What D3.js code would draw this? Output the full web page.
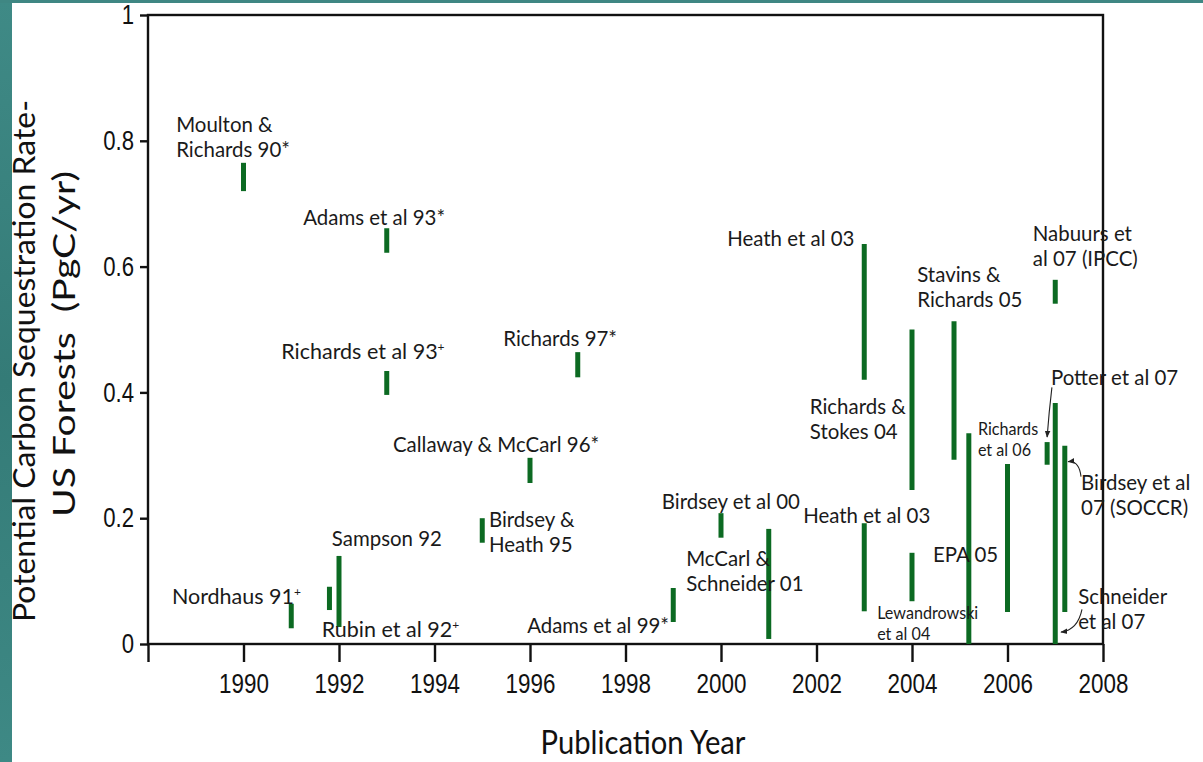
<!DOCTYPE html>
<html>
<head>
<meta charset="utf-8">
<script src="https://cdn.jsdelivr.net/npm/d3@7"></script>
<style>
  html, body { margin: 0; padding: 0; background: #ffffff; }
  svg { display: block; }
  text { white-space: pre; }
</style>
</head>
<body>
<svg id="chart" width="1203" height="762"></svg>
<script>
// ---------------- data ----------------
const studies = ["Moulton & Richards 90*", "Adams et al 93*", "Richards et al 93+", "Richards 97*",
  "Callaway & McCarl 96*", "Birdsey & Heath 95", "Birdsey et al 00", "McCarl & Schneider 01",
  "Adams et al 99*", "Nordhaus 91+", "Rubin et al 92+", "Sampson 92", "Heath et al 03 (high)",
  "Richards & Stokes 04", "Stavins & Richards 05", "EPA 05", "Richards et al 06", "Potter et al 07",
  "Schneider et al 07", "Nabuurs et al 07 (IPCC)", "Birdsey et al 07 (SOCCR)", "Lewandrowski et al 04",
  "Heath et al 03 (low)"];
const pubYear = [1990, 1993, 1993, 1997, 1996, 1995, 2000, 2001, 1999, 1991, 1991.8, 1992, 2003,
  2004, 2004.88, 2005.19, 2006, 2006.83, 2007, 2007, 2007.2, 2004, 2003];
const rateLow = [0.720, 0.622, 0.396, 0.424, 0.256, 0.161, 0.169, 0.008, 0.035, 0.025, 0.054, 0.027, 0.420,
  0.245, 0.293, 0.000, 0.051, 0.285, 0.000, 0.541, 0.051, 0.068, 0.052];
const rateHigh = [0.765, 0.661, 0.434, 0.464, 0.296, 0.200, 0.208, 0.183, 0.089, 0.064, 0.091, 0.140, 0.636,
  0.500, 0.513, 0.335, 0.286, 0.321, 0.383, 0.579, 0.315, 0.145, 0.192];

const xTickValues = [1988, 1990, 1992, 1994, 1996, 1998, 2000, 2002, 2004, 2006, 2008];
const xTickLabels = ["", "1990", "1992", "1994", "1996", "1998", "2000", "2002", "2004", "2006", "2008"];
const yTickValues = [0, 0.2, 0.4, 0.6, 0.8, 1];
const yTickLabels = ["0", "0.2", "0.4", "0.6", "0.8", "1"];

const yTitleLines = ["Potential Carbon Sequestration Rate-", "US Forests  (PgC/yr)"];
const xTitle = "Publication Year";

// annotation labels (text lines, anchor year, anchor value of first baseline)
const labelLines = [["Moulton &", "Richards 90*"], ["Adams et al 93*"], ["Richards et al 93+"], ["Richards 97*"],
  ["Callaway & McCarl 96*"], ["Birdsey &", "Heath 95"], ["Birdsey et al 00"], ["McCarl &", "Schneider 01"],
  ["Adams et al 99*"], ["Nordhaus 91+"], ["Rubin et al 92+"], ["Sampson 92"], ["Heath et al 03"],
  ["Richards &", "Stokes 04"], ["Stavins &", "Richards 05"], ["EPA 05"], ["Richards", "et al 06"],
  ["Potter et al 07"], ["Schneider", "et al 07"], ["Nabuurs et", "al 07 (IPCC)"], ["Birdsey et al", "07 (SOCCR)"],
  ["Lewandrowski", "et al 04"], ["Heath et al 03"]];
const labelYear = [1988.59, 1991.25, 1990.79, 1995.44, 1993.13, 1995.14, 1998.76, 1999.27, 1995.94, 1988.50,
  1991.64, 1991.85, 2000.13, 2001.86, 2004.11, 2004.44, 2005.38, 2006.91, 2007.48, 2006.53, 2007.54, 2003.27, 2001.72];
const labelValue = [0.814, 0.666, 0.453, 0.474, 0.305, 0.186, 0.215, 0.124, 0.017, 0.064, 0.011, 0.156, 0.633,
  0.366, 0.576, 0.130, 0.332, 0.412, 0.064, 0.641, 0.245, 0.040, 0.192];
const labelSmall = [16, 21];

// callout arrows: [year, value] of start, control and end points
const arrowFrom = [[2006.93, 0.408], [2007.54, 0.266], [2007.56, 0.055]];
const arrowCtrl = [[2006.87, 0.37], [2007.50, 0.292], [2007.47, 0.022]];
const arrowTo = [[2006.83, 0.329], [2007.27, 0.290], [2007.12, 0.019]];

// ---------------- layout ----------------
const svg = d3.select("#chart");
const W = 1203, H = 762;
const m = { left: 148, right: 100, top: 15, bottom: 118 };
const x = d3.scaleLinear().domain([1988, 2008]).range([m.left, W - m.right]);
const y = d3.scaleLinear().domain([0, 1]).range([H - m.bottom, m.top]);

// slide background strips
const defs = svg.append("defs");
const grad = defs.append("linearGradient").attr("id", "teal").attr("x1", 0).attr("x2", 0).attr("y1", 0).attr("y2", 1);
grad.append("stop").attr("offset", "0%").attr("stop-color", "#3f8a86");
grad.append("stop").attr("offset", "50%").attr("stop-color", "#347b77");
grad.append("stop").attr("offset", "100%").attr("stop-color", "#3e8985");
svg.append("rect").attr("x", 0).attr("y", 0).attr("width", 12).attr("height", H).attr("fill", "url(#teal)");
svg.append("rect").attr("x", 0).attr("y", 0).attr("width", W).attr("height", 3).attr("fill", "#3f8783");

defs.append("marker").attr("id", "arrow").attr("viewBox", "0 0 10 10")
  .attr("refX", 9).attr("refY", 5).attr("markerWidth", 7).attr("markerHeight", 7)
  .attr("orient", "auto").attr("markerUnits", "userSpaceOnUse")
  .append("path").attr("d", "M0,1 L10,5 L0,9 Z").attr("fill", "#222");

function squeeze(sel, f) {
  sel.each(function () {
    const w = this.getComputedTextLength();
    d3.select(this).attr("textLength", w * f).attr("lengthAdjust", "spacingAndGlyphs");
  });
}

const tickFont = "'Liberation Sans', Arial, sans-serif";
const labFont = "Lato, 'Open Sans', sans-serif";

// axes
const xAxis = svg.append("g").attr("transform", `translate(0,${y(0)})`)
  .call(d3.axisBottom(x).tickValues(xTickValues).tickSize(18).tickPadding(12)
    .tickFormat((d, i) => xTickLabels[i]));
const yAxis = svg.append("g").attr("transform", `translate(${x(1988)},0)`)
  .call(d3.axisLeft(y).tickValues(yTickValues).tickSize(8).tickPadding(6)
    .tickFormat((d, i) => yTickLabels[i]));
[xAxis, yAxis].forEach(g => {
  g.select(".domain").remove();
  g.selectAll(".tick line").attr("stroke", "#111").attr("stroke-width", 2.4);
  g.selectAll(".tick text").attr("fill", "#111").attr("font-family", tickFont).attr("font-size", 27);
});
xAxis.selectAll(".tick text").attr("dy", "0.71em");
squeeze(xAxis.selectAll(".tick text"), 0.83);
squeeze(yAxis.selectAll(".tick text"), 0.82);

// frame box
svg.append("rect").attr("x", x(1988)).attr("y", y(1)).attr("width", x(2008) - x(1988)).attr("height", y(0) - y(1))
  .attr("fill", "none").attr("stroke", "#111").attr("stroke-width", 2.4);

// bars
svg.append("g").selectAll("line").data(studies).join("line")
  .attr("x1", (d, i) => x(pubYear[i])).attr("x2", (d, i) => x(pubYear[i]))
  .attr("y1", (d, i) => y(rateLow[i])).attr("y2", (d, i) => y(rateHigh[i]))
  .attr("stroke", "#0c6a22").attr("stroke-width", 5);

// labels
const lg = svg.append("g").attr("font-family", labFont).attr("fill", "#1a1a1a");
labelLines.forEach((lines, i) => {
  const small = labelSmall.includes(i);
  const fs = small ? 17 : 21.5;
  const lh = small ? 21 : 25;
  lines.forEach((ln, j) => {
    const t = lg.append("text").attr("x", x(labelYear[i])).attr("y", y(labelValue[i]) + j * lh)
      .attr("font-size", fs);
    if (ln.endsWith("+")) {
      t.append("tspan").text(ln.slice(0, -1));
      t.append("tspan").attr("font-size", 12).attr("dy", -8).text("+");
    } else {
      t.text(ln);
    }
    if (!ln.endsWith("+")) squeeze(t, 0.95);
  });
});

// arrows
svg.append("g").selectAll("path").data(arrowFrom).join("path")
  .attr("d", (d, i) => `M${x(d[0])},${y(d[1])} Q${x(arrowCtrl[i][0])},${y(arrowCtrl[i][1])} ${x(arrowTo[i][0])},${y(arrowTo[i][1])}`)
  .attr("fill", "none").attr("stroke", "#222").attr("stroke-width", 1.1).attr("marker-end", "url(#arrow)");

// axis titles
const yt = svg.append("g").attr("font-family", labFont).attr("fill", "#111").attr("font-size", 31);
const yCenters = [361, 344];
const yBase = [35, 75];
const yLens = [522, 346];
yTitleLines.forEach((s, i) => {
  yt.append("text").attr("transform", `translate(${yBase[i]},${yCenters[i]}) rotate(-90)`)
    .attr("text-anchor", "middle").attr("textLength", yLens[i]).attr("lengthAdjust", "spacingAndGlyphs").text(s);
});
svg.append("text").attr("x", 643).attr("y", 754).attr("text-anchor", "middle")
  .attr("font-family", labFont).attr("font-size", 33).attr("fill", "#111")
  .attr("textLength", 205).attr("lengthAdjust", "spacingAndGlyphs").text(xTitle);
</script>
</body>
</html>
